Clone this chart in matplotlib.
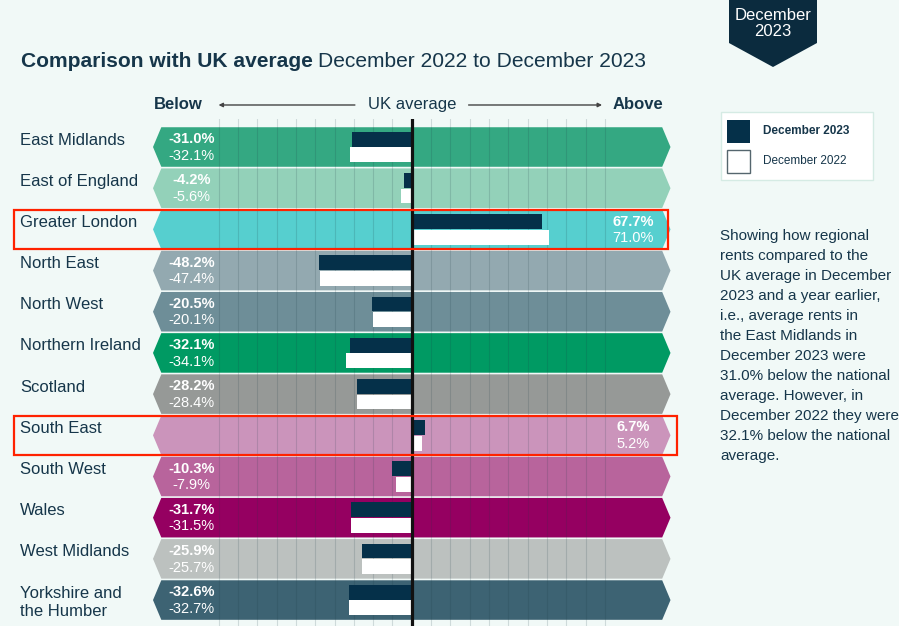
import matplotlib.pyplot as plt
from matplotlib.patches import Polygon, Rectangle
from matplotlib.transforms import blended_transform_factory

plt.rcParams['font.family'] = ['Liberation Sans', 'DejaVu Sans']

regions = ['East Midlands', 'East of England', 'Greater London', 'North East',
           'North West', 'Northern Ireland', 'Scotland', 'South East',
           'South West', 'Wales', 'West Midlands', 'Yorkshire and\nthe Humber']
dec_2023 = [-31.0, -4.2, 67.7, -48.2, -20.5, -32.1, -28.2, 6.7, -10.3, -31.7, -25.9, -32.6]
dec_2022 = [-32.1, -5.6, 71.0, -47.4, -20.1, -34.1, -28.4, 5.2, -7.9, -31.5, -25.7, -32.7]
band_colors = ['#34a882', '#93d1b9', '#56cfcf', '#93a9b0', '#6e8e98', '#009a63',
               '#969997', '#cb94bb', '#b8649c', '#950061', '#bcc1bf', '#3d6373']
highlight = ['Greater London', 'South East']

note = ['Showing how regional', 'rents compared to the', 'UK average in December',
        '2023 and a year earlier,', 'i.e., average rents in', 'the East Midlands in',
        'December 2023 were', '31.0% below the national', 'average. However, in',
        'December 2022 they were', '32.1% below the national', 'average.']

W, H = 899, 626
bg = '#f1f9f7'
navy = '#16364a'
dark_bar = '#053049'

def fx(px):
    return px / W

def fy(py):
    return 1 - py / H

fig = plt.figure(figsize=(W / 100, H / 100), dpi=100, facecolor=bg)
ax = fig.add_axes([fx(153), 0, fx(670.5) - fx(153), fy(119)])
ax.set_facecolor(bg)
ax.set_xlim(-134, 134)
ax.set_ylim(11.63, -0.68)
ax.axis('off')

band_h = 0.96
tip = 4.3
lim = 134
for i, c in enumerate(band_colors):
    pts = [(-lim, i), (-lim + tip, i - band_h / 2), (lim - tip, i - band_h / 2),
           (lim, i), (lim - tip, i + band_h / 2), (-lim + tip, i + band_h / 2)]
    ax.add_patch(Polygon(pts, closed=True, facecolor=c, edgecolor='none', zorder=1))

for v in range(-100, 101, 10):
    if v != 0:
        ax.axvline(v, color='#1d3b45', alpha=0.16, lw=0.8, zorder=2)

ys = list(range(len(regions)))
ax.barh([y - 0.19 for y in ys], dec_2023, height=0.36, color=dark_bar, zorder=3)
ax.barh([y + 0.19 for y in ys], dec_2022, height=0.36, color='white', zorder=3)
ax.axvline(0, color='#111111', lw=2.3, zorder=4)

for i, (a, b) in enumerate(zip(dec_2023, dec_2022)):
    lx = -114 if a < 0 else 114.5
    ax.text(lx, i - 0.19, f'{a:.1f}%', color='white', fontsize=10.5, weight='bold',
            ha='center', va='center', zorder=5)
    ax.text(lx, i + 0.21, f'{b:.1f}%', color='white', fontsize=10.5,
            ha='center', va='center', zorder=5)

# region names on the left
tr = blended_transform_factory(fig.transFigure, ax.transData)
for i, name in enumerate(regions):
    n = name.count('\n')
    ax.text(fx(20), i - 0.06 + n * 18 / 41.2, name, transform=tr, fontsize=12, color=navy,
            va='baseline', ha='left', linespacing=1.25, clip_on=False)

# header: Below <- UK average -> Above
hy = -1.02
ax.text(-121, hy, 'Below', fontsize=12, weight='bold', color=navy, ha='center', va='center', clip_on=False)
ax.text(117, hy, 'Above', fontsize=12, weight='bold', color=navy, ha='center', va='center', clip_on=False)
ax.text(0, hy, 'UK average', fontsize=12, color=navy, ha='center', va='center', clip_on=False)
ax.annotate('', xy=(-101.5, hy), xytext=(-28, hy), annotation_clip=False,
            arrowprops=dict(arrowstyle='-|>', lw=1, color='#444444', mutation_scale=6))
ax.annotate('', xy=(100, hy), xytext=(28, hy), annotation_clip=False,
            arrowprops=dict(arrowstyle='-|>', lw=1, color='#444444', mutation_scale=6))

# red highlight boxes
for name in highlight:
    i = regions.index(name)
    right = fx(668) if name == 'Greater London' else fx(677)
    ax.add_patch(Rectangle((fx(14), i - 0.47), right - fx(14), 0.94, transform=tr,
                           fill=False, edgecolor='#ff2200', lw=1.6, zorder=6, clip_on=False))

# title
t1 = fig.text(fx(21), fy(67), 'Comparison with UK average', fontsize=15.15,
              weight='bold', color=navy, va='baseline')
renderer = fig.canvas.get_renderer()
bb = t1.get_window_extent(renderer)
fig.text((bb.x1 + 5.5) / W, fy(67), 'December 2022 to December 2023',
         fontsize=15.15, color=navy, va='baseline')

# badge top right
badge = [(fx(729), fy(0)), (fx(817), fy(0)), (fx(817), fy(43)), (fx(773), fy(67)), (fx(729), fy(43))]
fig.patches.append(Polygon(badge, closed=True, transform=fig.transFigure,
                           facecolor='#0b2b3e', edgecolor='none'))
fig.text(fx(773), fy(15), 'December', fontsize=12, color='white', ha='center', va='center')
fig.text(fx(773), fy(31), '2023', fontsize=12, color='white', ha='center', va='center')

# legend
fig.patches.append(Rectangle((fx(721), fy(180)), fx(152), 68 / H, transform=fig.transFigure,
                             facecolor='white', edgecolor='#d5ebe4', lw=1))
fig.patches.append(Rectangle((fx(727), fy(143)), fx(23), 23 / H, transform=fig.transFigure,
                             facecolor=dark_bar, edgecolor='none'))
fig.patches.append(Rectangle((fx(727), fy(173)), fx(23), 23 / H, transform=fig.transFigure,
                             facecolor='white', edgecolor='#55666e', lw=1))
fig.text(fx(763), fy(131), 'December 2023', fontsize=8.5, weight='bold', color=navy, va='center')
fig.text(fx(763), fy(161), 'December 2022', fontsize=8.5, color=navy, va='center')

# side note
for k, line in enumerate(note):
    fig.text(fx(720), fy(240 + 20 * k), line, fontsize=11, color=navy, va='baseline')

fig.savefig('out.png', dpi=100, facecolor=bg)
